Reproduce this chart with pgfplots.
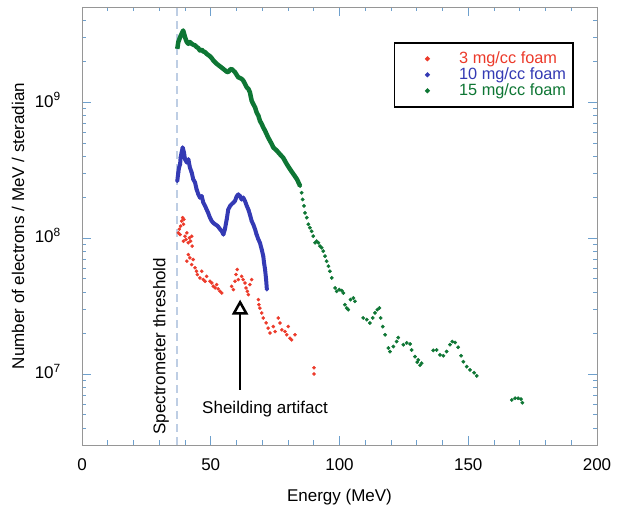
\documentclass[border=0pt]{standalone}
\usepackage{pgfplots}
\pgfplotsset{compat=1.18}
\usepackage{pgfplotstable}
\usepackage{fontspec}
\setmainfont{Liberation Sans}
\usetikzlibrary{arrows.meta}
\definecolor{cred}{RGB}{236,58,42}
\definecolor{cblue}{RGB}{52,58,180}
\definecolor{cgreen}{RGB}{14,118,52}
\definecolor{tickblue}{RGB}{110,160,205}
\definecolor{framegray}{RGB}{150,150,150}
\definecolor{threshcol}{RGB}{190,206,228}

\pgfplotstableread{
x y
37.4 1.09e8
37.8 1.16e8
38.1 1.06e8
38.3 1.22e8
38.7 1.33e8
39.1 1.41e8
39.4 1.26e8
39.6 1.37e8
40.0 1.03e8
40.4 9.75e7
39.4 9.47e7
40.7 1.09e8
41.3 9.22e7
41.7 1.00e8
42.2 9.47e7
42.6 1.03e8
42.8 8.71e7
41.3 7.55e7
41.9 7.14e7
40.7 6.75e7
42.6 6.37e7
43.2 6.93e7
43.9 6.03e7
44.5 5.69e7
44.8 5.38e7
45.8 5.08e7
46.5 5.69e7
47.1 4.94e7
47.8 4.80e7
48.4 5.22e7
49.7 4.80e7
50.4 4.67e7
51.0 4.41e7
51.7 4.29e7
52.3 4.54e7
52.9 4.22e7
53.6 4.05e7
54.3 3.94e7
58.1 4.41e7
58.8 4.17e7
59.4 4.80e7
59.8 5.38e7
60.3 5.86e7
60.7 4.94e7
62.0 5.22e7
62.6 4.94e7
63.3 4.67e7
63.7 4.29e7
64.2 4.05e7
64.6 3.83e7
65.2 4.54e7
65.9 4.94e7
68.5 3.52e7
68.7 3.23e7
69.1 3.05e7
69.8 2.81e7
70.4 2.58e7
71.5 2.37e7
72.3 2.17e7
73.0 2.00e7
74.3 2.23e7
75.0 2.05e7
76.2 2.58e7
76.9 2.37e7
77.6 2.11e7
78.8 2.05e7
79.5 1.94e7
80.1 2.23e7
80.8 1.83e7
81.4 1.78e7
82.7 1.94e7
90.1 1.11e7
90.1 1.00e7
}\redtab

\pgfplotstableread{
x y
37.0 2.62e8
37.4 3.03e8
37.7 3.30e8
38.1 3.49e8
38.3 3.91e8
38.7 4.26e8
39.1 4.63e8
39.6 4.26e8
40.0 3.79e8
40.7 3.59e8
41.3 3.79e8
41.9 3.30e8
42.6 3.03e8
43.2 2.70e8
43.9 2.56e8
44.5 2.28e8
45.2 2.09e8
45.8 1.98e8
46.5 2.03e8
47.1 1.82e8
47.8 1.72e8
48.4 1.62e8
49.0 1.53e8
49.7 1.41e8
50.4 1.33e8
51.0 1.29e8
51.7 1.26e8
52.3 1.24e8
52.9 1.21e8
53.6 1.16e8
54.3 1.12e8
54.9 1.06e8
55.5 1.16e8
56.2 1.37e8
56.8 1.62e8
57.5 1.72e8
58.1 1.77e8
58.8 1.82e8
59.4 1.87e8
60.1 2.03e8
60.7 2.09e8
61.4 2.03e8
62.0 1.92e8
62.6 1.98e8
63.3 1.87e8
64.0 1.72e8
64.6 1.62e8
65.2 1.49e8
65.9 1.33e8
66.5 1.26e8
67.2 1.16e8
67.8 1.06e8
68.5 9.75e7
69.1 9.22e7
69.8 8.22e7
70.4 7.35e7
70.7 6.56e7
71.1 5.86e7
71.5 4.94e7
71.8 4.17e7
}\bluetab

\pgfplotstableread{
x y
37.0 2.46e9
37.4 2.76e9
38.1 3.00e9
38.7 3.18e9
39.3 3.36e9
40.0 3.00e9
40.7 2.76e9
41.3 2.68e9
41.9 2.76e9
42.6 2.68e9
43.2 2.64e9
43.9 2.61e9
44.5 2.54e9
45.2 2.49e9
45.8 2.39e9
46.5 2.43e9
47.1 2.35e9
47.8 2.33e9
48.4 2.26e9
49.0 2.22e9
49.7 2.17e9
50.4 2.10e9
51.0 2.02e9
51.7 1.96e9
52.3 1.91e9
53.6 1.83e9
54.9 1.75e9
56.2 1.67e9
56.8 1.66e9
57.5 1.73e9
58.1 1.75e9
58.8 1.70e9
59.4 1.66e9
60.1 1.58e9
60.7 1.52e9
61.4 1.50e9
62.0 1.48e9
62.6 1.44e9
63.3 1.36e9
64.0 1.28e9
64.6 1.25e9
65.2 1.18e9
65.9 1.02e9
66.5 9.67e8
67.2 9.14e8
67.8 8.39e8
68.5 7.93e8
69.1 7.28e8
69.8 6.88e8
70.4 6.50e8
71.1 6.14e8
71.7 5.80e8
72.3 5.48e8
73.0 5.18e8
73.7 4.90e8
74.3 4.63e8
75.6 4.40e8
77.0 4.10e8
78.1 3.90e8
79.5 3.50e8
80.8 3.20e8
82.1 2.95e8
83.5 2.70e8
84.7 2.41e8
}\greenline

\pgfplotstableread{
x y
84.7 2.41e8
85.3 2.15e8
85.7 1.92e8
86.2 1.72e8
86.6 1.53e8
87.3 1.41e8
87.9 1.26e8
88.5 1.19e8
89.2 1.12e8
89.8 1.03e8
90.5 9.22e7
91.1 9.47e7
91.8 9.22e7
92.4 8.71e7
93.1 8.47e7
93.7 8.00e7
94.4 7.35e7
95.0 6.75e7
95.7 6.20e7
96.3 5.69e7
97.0 5.08e7
98.3 4.29e7
98.9 4.05e7
99.9 4.17e7
100.9 4.10e7
101.5 3.94e7
102.1 3.23e7
102.8 3.05e7
103.4 2.97e7
104.3 3.52e7
105.4 3.62e7
106.0 3.42e7
109.2 2.58e7
110.6 2.51e7
111.8 2.37e7
112.9 2.58e7
113.8 2.81e7
114.7 2.97e7
115.5 3.05e7
116.0 2.58e7
116.8 2.23e7
117.7 1.94e7
119.0 1.55e7
119.6 1.46e7
120.9 1.59e7
122.2 1.73e7
122.8 1.85e7
124.8 1.64e7
126.1 1.69e7
127.4 1.66e7
128.0 1.50e7
129.3 1.34e7
130.2 1.22e7
130.6 1.27e7
131.3 1.16e7
131.9 1.20e7
136.4 1.49e7
137.7 1.50e7
139.0 1.38e7
140.3 1.36e7
141.6 1.46e7
142.9 1.64e7
143.8 1.73e7
144.9 1.70e7
146.1 1.57e7
147.2 1.36e7
148.1 1.23e7
149.4 1.13e7
150.7 1.07e7
152.3 1.02e7
153.3 9.67e6
166.9 6.43e6
168.2 6.62e6
169.4 6.62e6
170.5 6.53e6
171.0 6.14e6
}\greendots

\begin{document}
\begin{tikzpicture}
\begin{axis}[
  scale only axis, width=515pt, height=438pt,
  xmin=0, xmax=200, ymode=log, ymin=3e6, ymax=5e9,
  xtick={0,50,100,150,200}, minor x tick num=4,
  ytick={1e7,1e8,1e9},
  yticklabels={10\textsuperscript{7},10\textsuperscript{8},10\textsuperscript{9}},
  minor ytick={3e6,4e6,5e6,6e6,7e6,8e6,9e6,2e7,3e7,4e7,5e7,6e7,7e7,8e7,9e7,2e8,3e8,4e8,5e8,6e8,7e8,8e8,9e8,2e9,3e9,4e9,5e9},
  tick align=inside,
  major tick length=9pt, minor tick length=4.5pt,
  tick style={color=tickblue, line width=0.8pt},
  axis line style={draw=framegray, line width=0.8pt},
  /pgf/number format/assume math mode=true,
  tick label style={font=\fontsize{17}{17}\selectfont},
  label style={font=\fontsize{17}{17}\selectfont},
  xticklabel style={anchor=base, inner sep=0pt, yshift=-26pt},
  yticklabel style={anchor=base east, inner sep=0pt, xshift=-21pt, yshift=-5pt},
  xlabel={Energy (MeV)},
  ylabel={Number of electrons / MeV / steradian},
  xlabel style={at={(axis description cs:0.5,-0.1187)}, anchor=center},
  ylabel style={at={(axis description cs:-0.1243,0.5)}, anchor=center},
  legend style={at={(0.955,0.920)}, anchor=north east, draw=black, line width=1.5pt,
    fill=white, inner xsep=5pt, inner ysep=8pt,
    font=\fontsize{16.3}{16}\selectfont,
    nodes={inner ysep=0pt, text height=12.5pt, text depth=3.5pt},
    /tikz/every odd column/.append style={column sep=18pt}, row sep=0pt},
  legend cell align=left,
  legend image code/.code={\path (0pt,0pt) (38pt,0pt); \fill (27pt,0pt) circle (1.6pt);},
]
\draw[threshcol, line width=1.1pt, dash pattern=on 8pt off 5pt] (axis cs:36.9,3e6) -- (axis cs:36.9,5e9);

\addplot[cred, only marks, mark=*, mark size=1.6pt] table[x=x,y=y] {\redtab};
\addlegendentry{\textcolor{cred}{3 mg/cc foam}}
\addplot[cblue, line width=4pt, line join=round, forget plot] table[x=x,y=y] {\bluetab};
\addplot[cblue, only marks, mark=*, mark size=1.7pt] table[x=x,y=y] {\bluetab};
\addlegendentry{\textcolor{cblue}{10 mg/cc foam}}
\addplot[cgreen, line width=4.5pt, line join=round, forget plot] table[x=x,y=y] {\greenline};
\addplot[cgreen, only marks, mark=*, mark size=1.7pt] table[x=x,y=y] {\greendots};
\addlegendentry{\textcolor{cgreen}{15 mg/cc foam}}

\node[rotate=90, anchor=center, font=\fontsize{17}{17}\selectfont] at (axis cs:30.7,1.6e7) {Spectrometer threshold};
\draw[black, line width=2.5pt, -{Triangle[open, width=16pt, length=15pt, line width=2.5pt]}] (axis cs:61.4,7.62e6) -- (axis cs:61.4,3.52e7);
\node[anchor=base, font=\fontsize{17}{17}\selectfont] at (axis cs:71.1,5.15e6) {Sheilding artifact};
\end{axis}
\pgfresetboundingbox
\path[use as bounding box] ([xshift=-82pt,yshift=-66pt]current axis.south west) rectangle ([xshift=22pt,yshift=7pt]current axis.north east);
\end{tikzpicture}
\end{document}
